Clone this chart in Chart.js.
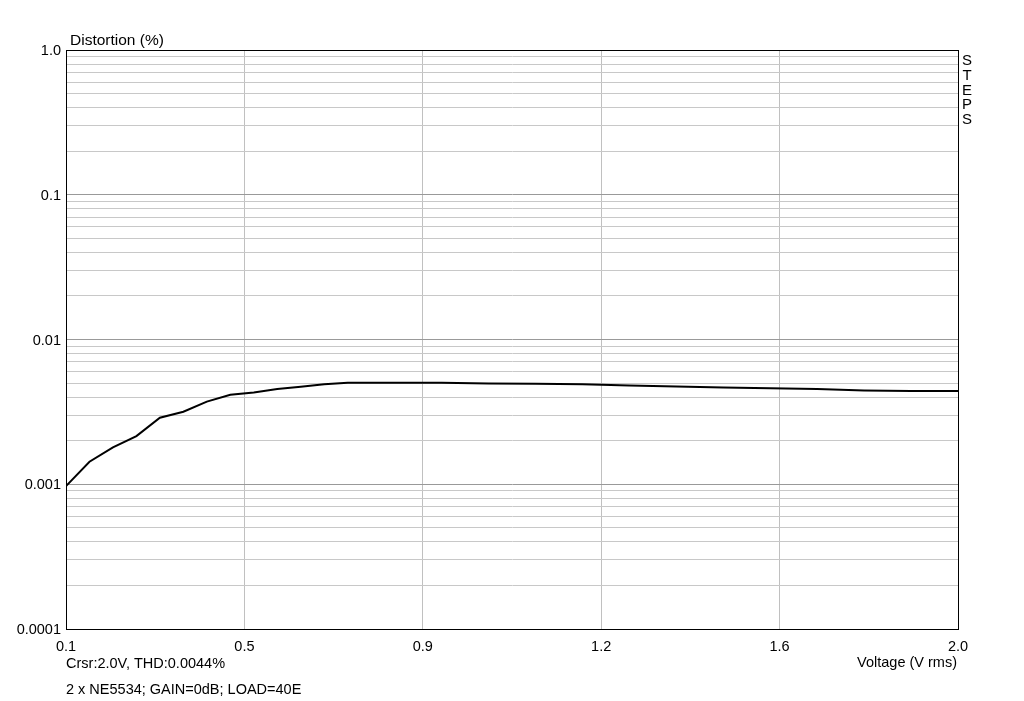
<!DOCTYPE html>
<html>
<head>
<meta charset="utf-8">
<script src="https://cdn.jsdelivr.net/npm/chart.js@4"></script>
<style>
  html, body { margin: 0; padding: 0; background: #fff; }
  #wrap { width: 1024px; height: 701px; }
</style>
</head>
<body>
<div id="wrap"><canvas id="myChart" width="1024" height="701"></canvas></div>
<script>
// measured curve, THD (%) against output voltage (V rms)
let voltage = [0.1, 0.15, 0.2, 0.25, 0.3, 0.35, 0.4, 0.45, 0.5, 0.55, 0.6, 0.65, 0.7, 0.8, 0.9, 1.0, 1.1, 1.2, 1.3, 1.4, 1.5, 1.6, 1.7, 1.8, 1.9, 2.0];
let thd = [0.00097, 0.00143, 0.0018, 0.00215, 0.00288, 0.00317, 0.00372, 0.00415, 0.0043, 0.00455, 0.00472, 0.0049, 0.00503, 0.00503, 0.00503, 0.00497, 0.00495, 0.0049, 0.00482, 0.00474, 0.00466, 0.0046, 0.00455, 0.00445, 0.0044, 0.0044];

let xTicks = [0.1, 0.48, 0.86, 1.24, 1.62, 2.0];
let yDecades = [0.0001, 0.001, 0.01, 0.1, 1];

const FONT = "'Liberation Sans', Arial, sans-serif";

function isDecade(v) {
    let l = Math.log10(v);
    return Math.abs(l - Math.round(l)) < 1e-6;
}

let textPlugin = {
    id: 'texts',
    afterDraw(chart) {
        let ctx = chart.ctx;
        let a = chart.chartArea;
        ctx.save();
        ctx.strokeStyle = '#000';
        ctx.lineWidth = 1;
        ctx.strokeRect(Math.round(a.left) + 0.5, Math.round(a.top) + 0.5,
            Math.round(a.right - a.left), Math.round(a.bottom - a.top));
        ctx.fillStyle = '#000';
        ctx.font = '15.5px ' + FONT;
        ctx.textBaseline = 'alphabetic';
        ctx.textAlign = 'left';
        ctx.fillText('Distortion (%)', 70, 45);
        ctx.font = '14.5px ' + FONT;
        ctx.fillText('Crsr:2.0V, THD:0.0044%', 66, 668);
        ctx.fillText('2 x NE5534; GAIN=0dB; LOAD=40E', 66, 694);
        ctx.textAlign = 'right';
        ctx.fillText('Voltage (V rms)', 957, 667);
        ctx.textAlign = 'center';
        ctx.font = '15px ' + FONT;
        let letters = 'STEPS'.split('');
        letters.forEach((c, i) => ctx.fillText(c, 967, 65 + i * 14.8));
        ctx.restore();
    }
};

let myChart = document.getElementById('myChart').getContext('2d');

let chart = new Chart(myChart, {
    type: 'scatter',
    data: {
        datasets: [{
            data: voltage.map((v, i) => ({x: v, y: thd[i]})),
            showLine: true,
            borderColor: '#000',
            borderWidth: 2,
            pointRadius: 0,
            tension: 0
        }]
    },
    options: {
        responsive: false,
        animation: false,
        layout: { padding: { left: 0, top: 50, right: 66, bottom: 0 } },
        plugins: {
            legend: { display: false },
            tooltip: { enabled: false }
        },
        scales: {
            x: {
                type: 'linear',
                min: 0.1,
                max: 2.0,
                afterBuildTicks: (scale) => { scale.ticks = xTicks.map(v => ({value: v})); },
                afterFit: (scale) => { scale.height = 72; },
                grid: { color: '#c0c0c0', drawTicks: false },
                border: { color: '#000' },
                ticks: {
                    color: '#000',
                    font: { family: FONT, size: 14.5 },
                    padding: 9,
                    autoSkip: false,
                    maxRotation: 0,
                    callback: (v) => Number(v).toFixed(1)
                }
            },
            y: {
                type: 'logarithmic',
                min: 0.0001,
                max: 1,
                afterBuildTicks: (scale) => {
                    let t = [];
                    yDecades.forEach(d => {
                        if (d >= 1) { t.push({value: 1}); return; }
                        for (let m = 1; m < 10; m++) t.push({value: d * m});
                    });
                    scale.ticks = t;
                },
                afterFit: (scale) => { scale.width = 66; },
                grid: {
                    color: (c) => (c.tick && isDecade(c.tick.value)) ? '#999' : '#c8c8c8',
                    drawTicks: false
                },
                border: { color: '#000' },
                ticks: {
                    color: '#000',
                    font: { family: FONT, size: 14.5 },
                    padding: 5,
                    labelOffset: 1,
                    autoSkip: false,
                    callback: (v) => isDecade(v) ? (v >= 1 ? '1.0' : String(Number(v.toPrecision(1)))) : ''
                }
            }
        }
    },
    plugins: [textPlugin]
});
</script>
</body>
</html>
